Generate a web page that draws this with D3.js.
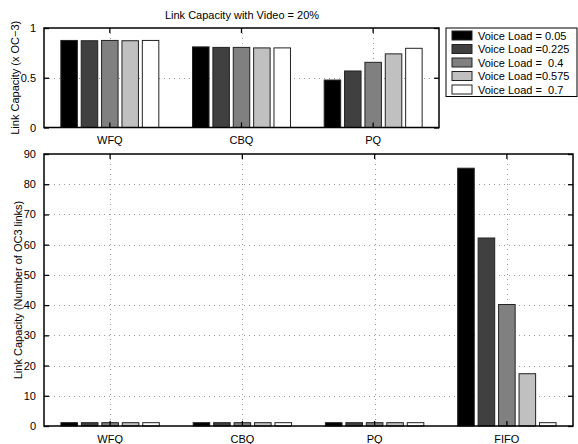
<!DOCTYPE html>
<html><head><meta charset="utf-8">
<script src="https://cdn.jsdelivr.net/npm/d3@7"></script>
<style>
body{margin:0;background:#fff;}
text{font-family:"Liberation Sans",Arial,Helvetica,sans-serif;}
</style></head>
<body><svg id="c" width="578" height="444"></svg>
<script>
const title = "Link Capacity with Video = 20%";
const seriesLabels = ["Voice Load = 0.05","Voice Load =0.225","Voice Load =  0.4","Voice Load =0.575","Voice Load =  0.7"];
const seriesColors = ["#000000","#404040","#808080","#c0c0c0","#ffffff"];
const topCats = ["WFQ","CBQ","PQ"];
const topValues = [
  [0.875,0.872,0.875,0.872,0.875],
  [0.81,0.805,0.805,0.80,0.80],
  [0.477,0.568,0.655,0.74,0.796]
];
const topTicks = [0,0.5,1];
const topTickLabels = ["0","0.5","1"];
const botCats = ["WFQ","CBQ","PQ","FIFO"];
const botValues = [
  [1.1,1.1,1.1,1.1,1.1],
  [1.1,1.1,1.1,1.1,1.1],
  [1.1,1.1,1.1,1.1,1.1],
  [85.3,62.2,40.2,17.3,1.1]
];
const botTicks = [0,10,20,30,40,50,60,70,80,90];
const topYLabel = "Link Capacity (x OC\u22123)";
const botYLabel = "Link Capacity (Number of OC3 links)";

const svg = d3.select("#c");

function panel(cfg){
  const {x0,x1,y0,y1,cats,values,ymax,ticks,tickLabels,ylabel,ylabelX} = cfg;
  const g = svg.append("g");
  const x = d3.scaleBand().domain(cats).range([x0,x1]).padding(0);
  const y = d3.scaleLinear().domain([0,ymax]).range([y1,y0]);
  const groupW = x.bandwidth()*0.744;
  const inner = d3.scaleBand().domain(d3.range(5)).range([-groupW/2,groupW/2]).paddingInner(0.19);
  // grid
  const grid = g.append("g").attr("stroke","#999").attr("stroke-width",1).attr("stroke-dasharray","1,4");
  ticks.forEach(t=>{ if(t>0 && t<ymax) grid.append("line").attr("x1",x0).attr("x2",x1).attr("y1",Math.round(y(t))+0.5).attr("y2",Math.round(y(t))+0.5); });
  cats.forEach(c=>{ const cx=Math.round(x(c)+x.bandwidth()/2)+0.5; grid.append("line").attr("x1",cx).attr("x2",cx).attr("y1",y0).attr("y2",y1); });
  // bars
  cats.forEach((c,i)=>{
    const cx = x(c)+x.bandwidth()/2;
    values[i].forEach((v,j)=>{
      g.append("rect")
        .attr("x",cx+inner(j)).attr("width",inner.bandwidth())
        .attr("y",y(v)).attr("height",y(0)-y(v))
        .attr("fill",seriesColors[j]).attr("stroke","#222").attr("stroke-width",1);
    });
  });
  // frame
  g.append("rect").attr("x",x0).attr("y",y0).attr("width",x1-x0).attr("height",y1-y0)
    .attr("fill","none").attr("stroke","#000").attr("stroke-width",1.5);
  // y axis via d3 axis (inner ticks)
  const ya = g.append("g").attr("transform",`translate(${x0},0)`)
    .call(d3.axisLeft(y).tickValues(ticks).tickFormat((d,i)=>tickLabels[i]).tickSize(-5).tickPadding(8));
  ya.select(".domain").remove();
  ya.selectAll("line").attr("stroke","#000").attr("stroke-width",1.3);
  ya.selectAll("text").attr("font-size",11).attr("fill","#000").style("font-family","'Liberation Sans',Arial,sans-serif");
  const ya2 = g.append("g").attr("transform",`translate(${x1},0)`)
    .call(d3.axisRight(y).tickValues(ticks).tickFormat("").tickSize(-5));
  ya2.select(".domain").remove(); ya2.selectAll("line").attr("stroke","#000").attr("stroke-width",1.3);
  const xa = g.append("g").attr("transform",`translate(0,${y1})`)
    .call(d3.axisBottom(x).tickSize(-5).tickPadding(9));
  xa.select(".domain").remove(); xa.selectAll("line").attr("stroke","#000").attr("stroke-width",1.3);
  xa.selectAll("text").attr("font-size",11).attr("fill","#000").style("font-family","'Liberation Sans',Arial,sans-serif");
  const xa2 = g.append("g").attr("transform",`translate(0,${y0})`)
    .call(d3.axisTop(x).tickSize(-5).tickFormat(""));
  xa2.select(".domain").remove(); xa2.selectAll("line").attr("stroke","#000").attr("stroke-width",1.3);
  g.append("text").attr("transform",`translate(${ylabelX},${(y0+y1)/2}) rotate(-90)`)
    .attr("text-anchor","middle").attr("font-size",11).text(ylabel);
  return {x,y};
}

panel({x0:44,x1:439,y0:28,y1:127.5,cats:topCats,values:topValues,ymax:1,ticks:topTicks,tickLabels:topTickLabels,ylabel:topYLabel,ylabelX:19});
panel({x0:44,x1:573,y0:154,y1:426,cats:botCats,values:botValues,ymax:90,ticks:botTicks,tickLabels:botTicks.map(String),ylabel:botYLabel,ylabelX:22});

svg.append("text").attr("x",242).attr("y",19).attr("text-anchor","middle").attr("font-size",11).text(title);

// legend
const lg = svg.append("g");
lg.append("rect").attr("x",446).attr("y",28).attr("width",131).attr("height",68.5).attr("fill","#fff").attr("stroke","#000").attr("stroke-width",1);
seriesLabels.forEach((s,i)=>{
  const cy = 35.5+i*13.5;
  lg.append("rect").attr("x",452).attr("y",cy-4.5).attr("width",20).attr("height",9).attr("fill",seriesColors[i]).attr("stroke","#222").attr("stroke-width",1);
  lg.append("text").attr("x",478).attr("y",cy+4).attr("font-size",11).text(s).style("white-space","pre");
});
</script></body></html>
